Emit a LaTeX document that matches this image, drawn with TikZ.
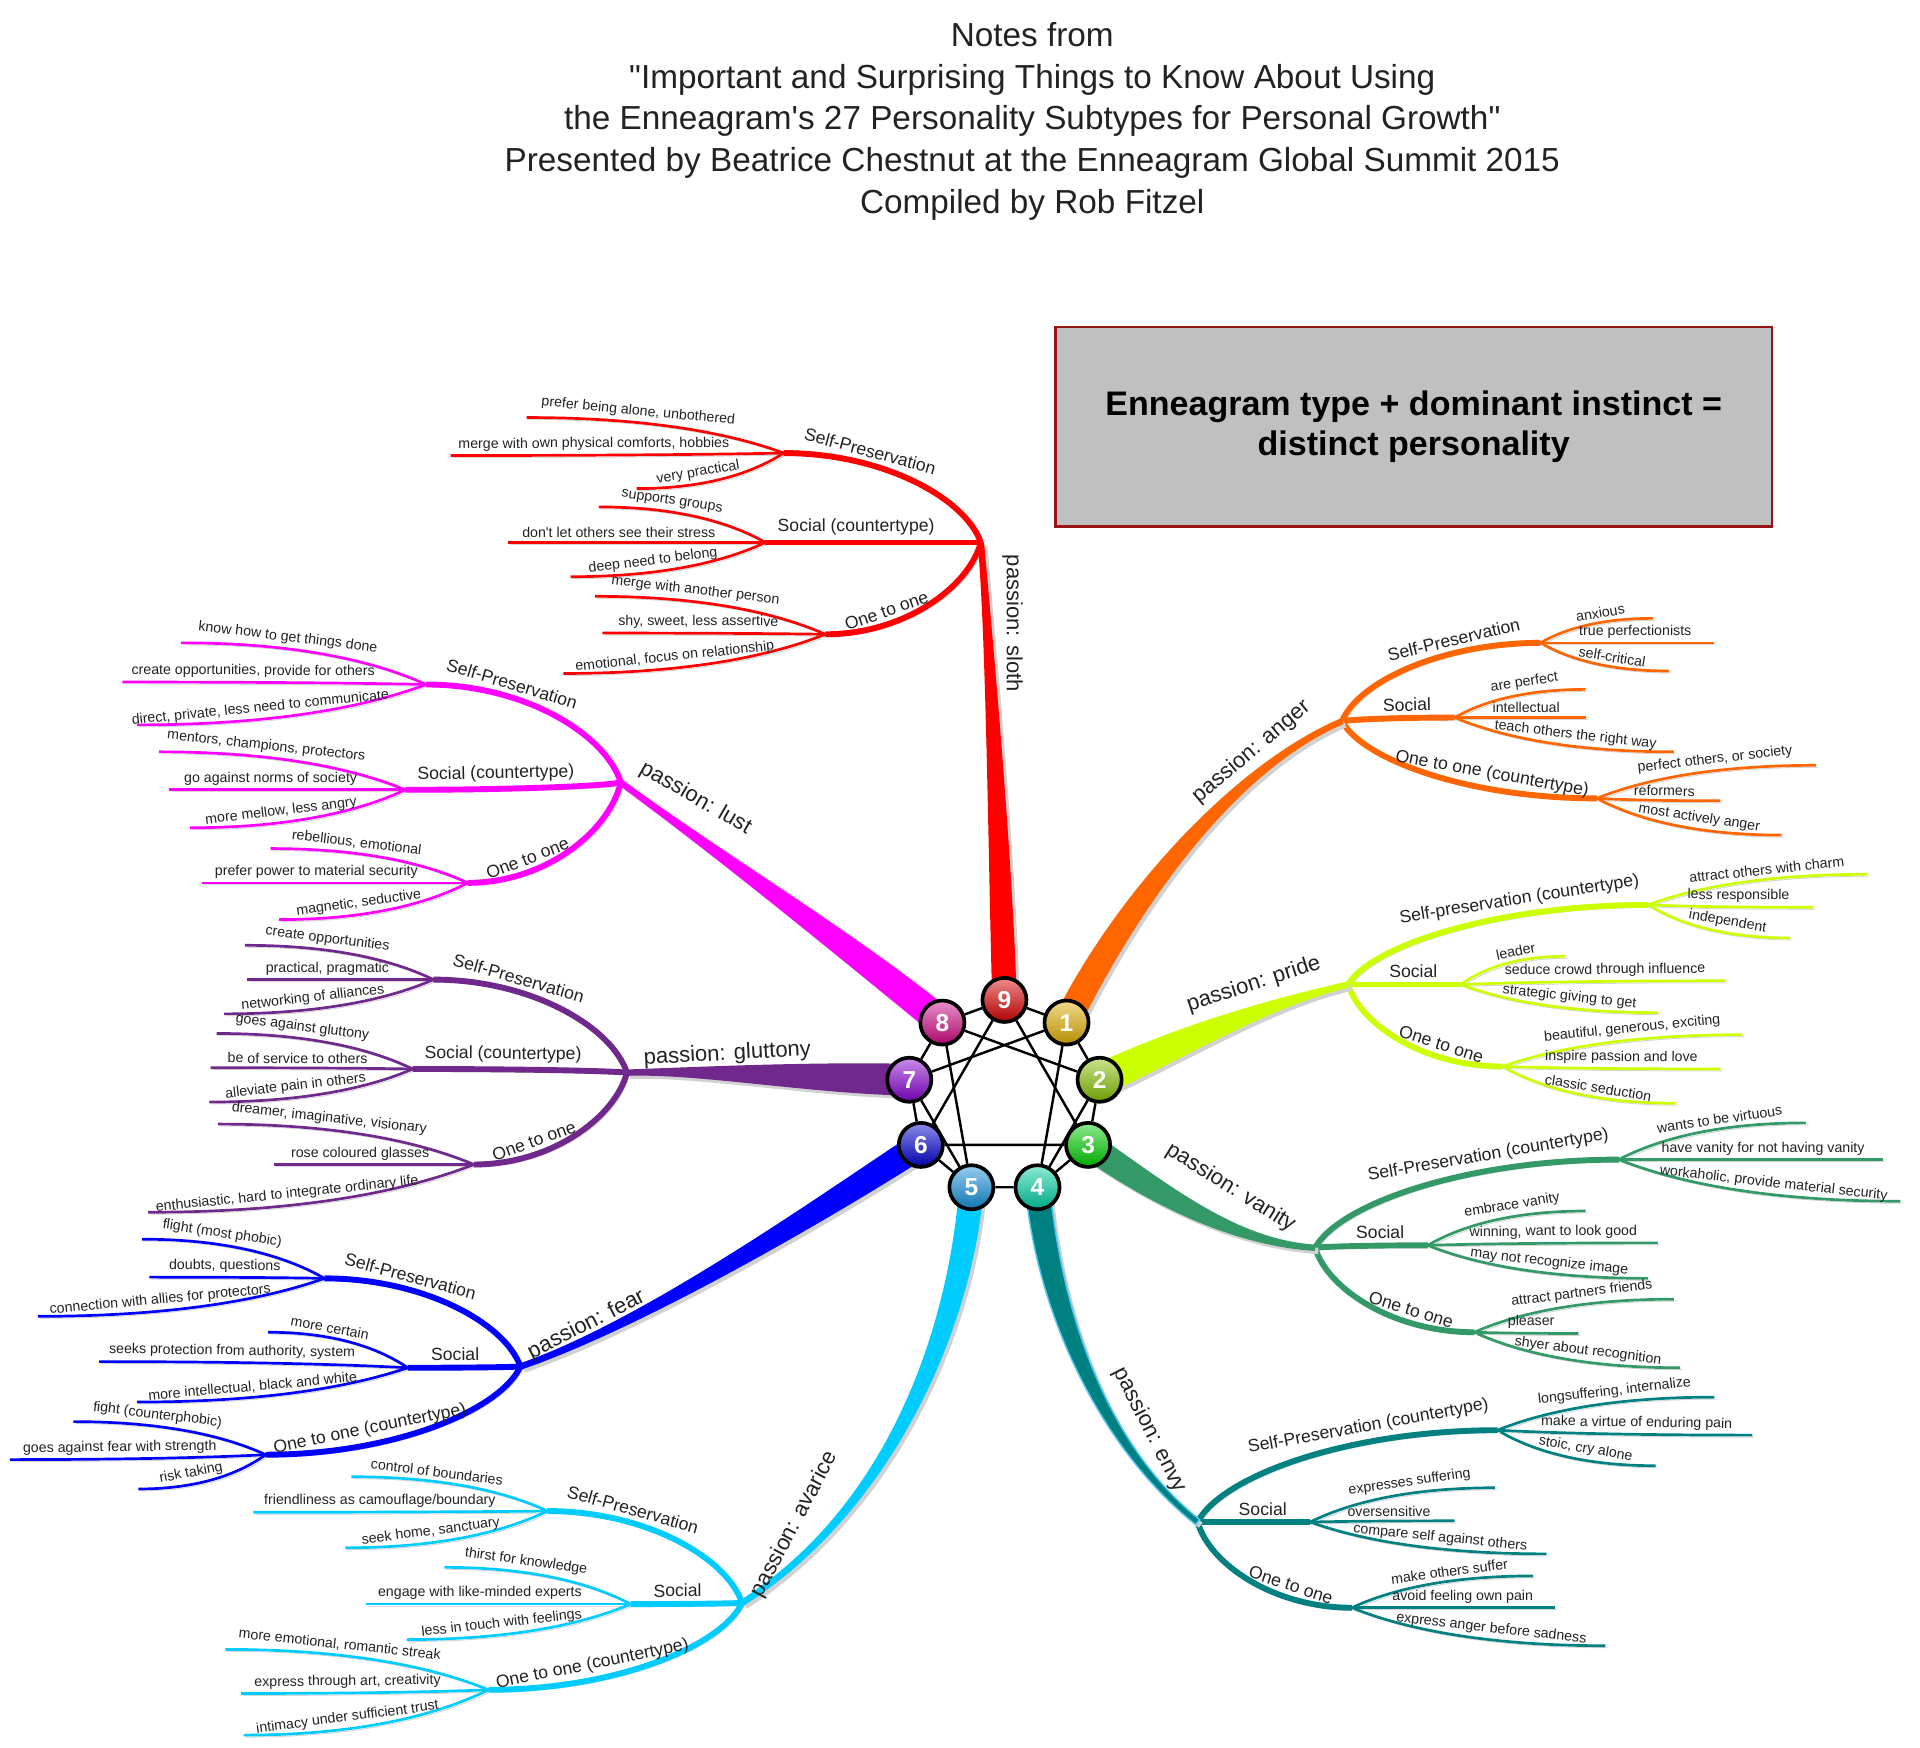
\documentclass[tikz,border=0pt]{standalone}
\usepackage{fontspec}
\setmainfont{Liberation Sans}[Ligatures=TeXOff]
\usetikzlibrary{calc,backgrounds}

\definecolor{txt}{RGB}{34,34,34}
\definecolor{slothc}{RGB}{255,0,0}
\definecolor{angerc}{RGB}{255,102,0}
\definecolor{pridec}{RGB}{204,255,0}
\definecolor{vanityc}{RGB}{51,153,102}
\definecolor{envyc}{RGB}{0,128,128}
\definecolor{avaricec}{RGB}{0,204,255}
\definecolor{fearc}{RGB}{0,0,255}
\definecolor{gluttonyc}{RGB}{112,40,140}
\definecolor{lustc}{RGB}{255,0,255}
\definecolor{b9}{RGB}{220,0,0}
\definecolor{b1}{RGB}{225,175,0}
\definecolor{b2}{RGB}{135,195,0}
\definecolor{b3}{RGB}{0,210,0}
\definecolor{b4}{RGB}{0,210,165}
\definecolor{b5}{RGB}{20,145,220}
\definecolor{b6}{RGB}{0,0,210}
\definecolor{b7}{RGB}{135,0,210}
\definecolor{b8}{RGB}{210,10,135}
\definecolor{boxfill}{RGB}{192,192,192}
\definecolor{boxline}{RGB}{150,20,20}

% tapered main branch: options, start, ctrl, ctrl, end, half width at start, at end
\newcommand\trunk[7]{%
  \fill[#1, trunkshade] ($(#2)!#6!90:(#3)$) .. controls ($(#3)!#6!-90:(#2)$) and ($(#4)!#7!90:(#5)$) .. ($(#5)!#7!-90:(#4)$)
    -- ($(#5)!#7!90:(#4)$) .. controls ($(#4)!#7!-90:(#5)$) and ($(#3)!#6!90:(#2)$) .. ($(#2)!#6!-90:(#3)$) -- cycle;}
% instinct branches, left and right of the hub
\newcommand\subL[3]{%
  \draw[subbr] let \p1=(#1), \p2=(#2) in
    (\p1) .. controls ({0.5*\x1+0.5*\x2},\y1) and ({0.08*\x1+0.92*\x2},{0.5*\y1+0.5*\y2}) .. (\p2)
    node[subtext, pos=.3] {#3};}
\newcommand\subR[3]{%
  \draw[subbr] let \p1=(#1), \p2=(#2) in
    (\p1) .. controls ({0.92*\x1+0.08*\x2},{0.5*\y1+0.5*\y2}) and ({0.5*\x1+0.5*\x2},\y2) .. (\p2)
    node[subtext, pos=.7] {#3};}
% leaves
\newcommand\leafL[3]{%
  \draw[leaf] let \p1=(#1), \p2=(#2) in
    (\p1) .. controls ({0.45*\x1+0.55*\x2},\y1) and ({0.15*\x1+0.85*\x2},{0.4*\y1+0.6*\y2}) .. (\p2)
    node[leaftext, pos=.3] {#3};}
\newcommand\leafR[3]{%
  \draw[leaf] let \p1=(#1), \p2=(#2) in
    (\p1) .. controls ({0.85*\x1+0.15*\x2},{0.6*\y1+0.4*\y2}) and ({0.55*\x1+0.45*\x2},\y2) .. (\p2)
    node[leaftext, pos=.68] {#3};}

\begin{document}
\begin{tikzpicture}[x=0.5pt, y=-0.5pt,
  leaf/.style={draw=br, line width=1.1pt, preaction={draw=black!16, transform canvas={shift={(0.8pt,-0.8pt)}}}},
  subbr/.style={draw=br, line width=2.4pt, preaction={draw=black!16, transform canvas={shift={(1pt,-1pt)}}}},
  trunkshade/.style={preaction={fill=black!18, transform canvas={shift={(1.3pt,-1.3pt)}}}},
  leaftext/.style={sloped, above, inner sep=1.3pt, text=txt, font=\fontsize{5.8}{6}\selectfont},
  subtext/.style={sloped, above, inner sep=1.6pt, text=txt, font=\fontsize{7.2}{8}\selectfont},
  passtext/.style={inner sep=0pt, text=txt, font=\fontsize{9}{10}\selectfont},
  ball/.style={circle, draw=black, line width=1.5pt, minimum size=18pt, inner sep=0pt,
    top color=#1!45!white, middle color=#1, bottom color=#1!80!black, text=white, font=\bfseries\fontsize{10}{10}\selectfont},
  gram/.style={line width=1pt, black},
  infobox/.style={draw=boxline, fill=boxfill, line width=1pt, minimum width=292.5pt, minimum height=81.5pt, align=center, font=\bfseries\fontsize{13.9}{16.5}\selectfont},
  titletext/.style={align=center, text=txt, font=\fontsize{13.6}{17}\selectfont}
]
\useasboundingbox (0,0) rectangle (1568,1427);

\node[titletext] (title) at (843,99) {Notes from\\"Important and Surprising Things to Know About Using\\the Enneagram's 27 Personality Subtypes for Personal Growth"\\Presented by Beatrice Chestnut at the Enneagram Global Summit 2015\\Compiled by Rob Fitzel};
\node[infobox] (rule) at (1154.5,348.5) {Enneagram type + dominant instinct =\\distinct personality};

% the enneagram
\node[ball=b9] (n9) at (820.3,816.6) {9};
\node[ball=b1] (n1) at (871.0,835.1) {1};
\node[ball=b2] (n2) at (898.0,881.8) {2};
\node[ball=b3] (n3) at (888.6,935.0) {3};
\node[ball=b4] (n4) at (847.3,969.6) {4};
\node[ball=b5] (n5) at (793.3,969.6) {5};
\node[ball=b6] (n6) at (752.0,935.0) {6};
\node[ball=b7] (n7) at (742.6,881.8) {7};
\node[ball=b8] (n8) at (769.6,835.1) {8};
\draw[gram] (n9) -- (n1) -- (n2) -- (n3) -- (n4) -- (n5) -- (n6) -- (n7) -- (n8) -- (n9);
\draw[gram] (n9) -- (n3) -- (n6) -- (n9);
\draw[gram] (n1) -- (n4) -- (n2) -- (n8) -- (n5) -- (n7) -- (n1);

\begin{scope}[on background layer]
% 9 sloth
\colorlet{br}{slothc}
\coordinate (h9) at (801,443);
\leafL{430,341}{640,370}{prefer being alone, unbothered}
\leafL{368,372}{640,370}{merge with own physical comforts, hobbies}
\leafL{520,399}{640,370}{very practical}
\leafL{489,414}{625,443}{supports groups}
\leafL{415,443}{625,443}{don't let others see their stress}
\leafL{466,471}{625,443}{deep need to belong}
\leafL{486,487}{674,518}{merge with another person}
\leafL{492,517}{674,518}{shy, sweet, less assertive}
\leafL{460,550}{674,518}{emotional, focus on relationship}
\subL{640,370}{h9}{Self-Preservation}
\subL{625,443}{h9}{Social (countertype)}
\subL{674,518}{h9}{One to one}
\trunk{br}{n9.center}{817,700}{808,520}{h9}{5pt}{1.3pt}
\node[passtext, rotate=-90] (pass9) at (827,509) {passion: sloth};

% 8 lust
\colorlet{br}{lustc}
\coordinate (h8) at (507,639);
\leafL{148,525}{348,559}{know how to get things done}
\leafL{100,557}{348,559}{create opportunities, provide for others}
\leafL{112,592}{348,559}{direct, private, less need to communicate}
\leafL{130,614}{331,645}{mentors, champions, protectors}
\leafL{138,645}{331,645}{go against norms of society}
\leafL{155,676}{331,645}{more mellow, less angry}
\leafL{221,693}{382,721}{rebellious, emotional}
\leafL{165,721}{382,721}{prefer power to material security}
\leafL{228,751}{382,721}{magnetic, seductive}
\subL{348,559}{h8}{Self-Preservation}
\subL{331,645}{h8}{Social (countertype)}
\subL{382,721}{h8}{One to one}
\trunk{br}{n8.center}{690,770}{590,700}{h8}{6pt}{1.3pt}
\node[passtext, rotate=-30] (pass8) at (568,652) {passion: lust};

% 7 gluttony
\colorlet{br}{gluttonyc}
\coordinate (h7) at (512,876);
\leafL{200,772}{354,800}{create opportunities}
\leafL{202,800}{354,800}{practical, pragmatic}
\leafL{183,828}{354,800}{networking of alliances}
\leafL{177,844}{337,873}{goes against gluttony}
\leafL{172,872}{337,873}{be of service to others}
\leafL{171,900}{337,873}{alleviate pain in others}
\leafL{178,918}{387,951}{dreamer, imaginative, visionary}
\leafL{224,951}{387,951}{rose coloured glasses}
\leafL{121,990}{387,951}{enthusiastic, hard to integrate ordinary life}
\subL{354,800}{h7}{Self-Preservation}
\subL{337,873}{h7}{Social (countertype)}
\subL{387,951}{h7}{One to one}
\trunk{br}{n7.center}{660,880}{570,874}{h7}{6.5pt}{1.3pt}
\node[passtext, rotate=3] (pass7) at (594,861) {passion: gluttony};

% 6 fear
\colorlet{br}{fearc}
\coordinate (h6) at (425,1116);
\leafL{116,1012}{265,1044}{flight (most phobic)}
\leafL{122,1043}{265,1044}{doubts, questions}
\leafL{31,1075}{265,1044}{connection with allies for protectors}
\leafL{219,1088}{333,1117}{more certain}
\leafL{81,1112}{333,1117}{seeks protection from authority, system}
\leafL{112,1145}{333,1117}{more intellectual, black and white}
\leafL{60,1161}{217,1188}{fight (counterphobic)}
\leafL{8,1192}{217,1188}{goes against fear with strength}
\leafL{113,1216}{217,1188}{risk taking}
\subL{265,1044}{h6}{Self-Preservation}
\subL{333,1117}{h6}{Social}
\subL{217,1188}{h6}{One to one (countertype)}
\trunk{br}{n6.center}{690,975}{530,1080}{h6}{5.5pt}{1.3pt}
\node[passtext, rotate=27] (pass6) at (479,1082) {passion: fear};

% 5 avarice
\colorlet{br}{avaricec}
\coordinate (h5) at (606,1309);
\leafL{287,1206}{447,1234}{control of boundaries}
\leafL{207,1235}{447,1234}{friendliness as camouflage/boundary}
\leafL{282,1264}{447,1234}{seek home, sanctuary}
\leafL{363,1280}{515,1310}{thirst for knowledge}
\leafL{299,1310}{515,1310}{engage with like-minded experts}
\leafL{332,1339}{515,1310}{less in touch with feelings}
\leafL{184,1347}{399,1380}{more emotional, romantic streak}
\leafL{197,1383}{399,1380}{express through art, creativity}
\leafL{199,1417}{399,1380}{intimacy under sufficient trust}
\subL{447,1234}{h5}{Self-Preservation}
\subL{515,1310}{h5}{Social}
\subL{399,1380}{h5}{One to one (countertype)}
\trunk{br}{n5.center}{785,1080}{730,1230}{h5}{5pt}{1.3pt}
\node[passtext, rotate=62] (pass5) at (649,1245) {passion: avarice};

% 4 envy
\colorlet{br}{envyc}
\coordinate (h4) at (978,1243);
\leafR{1223,1168}{1400,1141}{longsuffering, internalize}
\leafR{1223,1168}{1431,1172}{make a virtue of enduring pain}
\leafR{1223,1168}{1352,1197}{stoic, cry alone}
\leafR{1070,1243}{1221,1215}{expresses suffering}
\leafR{1070,1243}{1188,1242}{oversensitive}
\leafR{1070,1243}{1263,1269}{compare self against others}
\leafR{1104,1313}{1252,1287}{make others suffer}
\leafR{1104,1313}{1270,1313}{avoid feeling own pain}
\leafR{1104,1313}{1311,1344}{express anger before sadness}
\subR{h4}{1223,1168}{Self-Preservation (countertype)}
\subR{h4}{1070,1243}{Social}
\subR{h4}{1104,1313}{One to one}
\trunk{br, draw=cyan!70, line width=0.6pt}{n4.center}{858,1080}{905,1185}{h4}{5pt}{1.3pt}
\node[passtext, rotate=-63] (pass4) at (939,1168) {passion: envy};

% 3 vanity
\colorlet{br}{vanityc}
\coordinate (h3) at (1074,1019);
\leafR{1322,947}{1475,917}{wants to be virtuous}
\leafR{1322,947}{1538,947}{have vanity for not having vanity}
\leafR{1322,947}{1552,981}{workaholic, provide material security}
\leafR{1166,1017}{1295,989}{embrace vanity}
\leafR{1166,1017}{1354,1015}{winning, want to look good}
\leafR{1166,1017}{1346,1044}{may not recognize image}
\leafR{1204,1088}{1367,1061}{attract partners friends}
\leafR{1204,1088}{1289,1089}{pleaser}
\leafR{1204,1088}{1372,1117}{shyer about recognition}
\subR{h3}{1322,947}{Self-Preservation (countertype)}
\subR{h3}{1166,1017}{Social}
\subR{h3}{1204,1088}{One to one}
\trunk{br}{n3.center}{950,978}{1010,1015}{h3}{5.5pt}{1.3pt}
\node[passtext, rotate=-32] (pass3) at (1005,970) {passion: vanity};

% 2 pride
\colorlet{br}{pridec}
\coordinate (h2) at (1101,804);
\leafR{1346,739}{1525,714}{attract others with charm}
\leafR{1346,739}{1481,741}{less responsible}
\leafR{1346,739}{1462,766}{independent}
\leafR{1193,804}{1278,781}{leader}
\leafR{1193,804}{1409,801}{seduce crowd through influence}
\leafR{1193,804}{1354,827}{strategic giving to get}
\leafR{1227,871}{1423,845}{beautiful, generous, exciting}
\leafR{1227,871}{1405,873}{inspire passion and love}
\leafR{1227,871}{1368,901}{classic seduction}
\subR{h2}{1346,739}{Self-preservation (countertype)}
\subR{h2}{1193,804}{Social}
\subR{h2}{1227,871}{One to one}
\trunk{br}{n2.center}{970,848}{1040,818}{h2}{6.5pt}{1.3pt}
\node[passtext, rotate=18] (pass2) at (1024,804) {passion: pride};

% 1 anger
\colorlet{br}{angerc}
\coordinate (h1) at (1096,589);
\leafR{1258,525}{1350,505}{anxious}
\leafR{1258,525}{1400,525}{true perfectionists}
\leafR{1258,525}{1363,548}{self-critical}
\leafR{1188,586}{1295,563}{are perfect}
\leafR{1188,586}{1295,586}{intellectual}
\leafR{1188,586}{1367,614}{teach others the right way}
\leafR{1304,652}{1483,625}{perfect others, or society}
\leafR{1304,652}{1405,654}{reformers}
\leafR{1304,652}{1455,682}{most actively anger}
\subR{h1}{1258,525}{Self-Preservation}
\subR{h1}{1188,586}{Social}
\subR{h1}{1304,652}{One to one (countertype)}
\trunk{br}{n1.center}{918,740}{1005,628}{h1}{5.5pt}{1.3pt}
\node[passtext, rotate=40] (pass1) at (1022,614) {passion: anger};
\end{scope}
\end{tikzpicture}
\end{document}
